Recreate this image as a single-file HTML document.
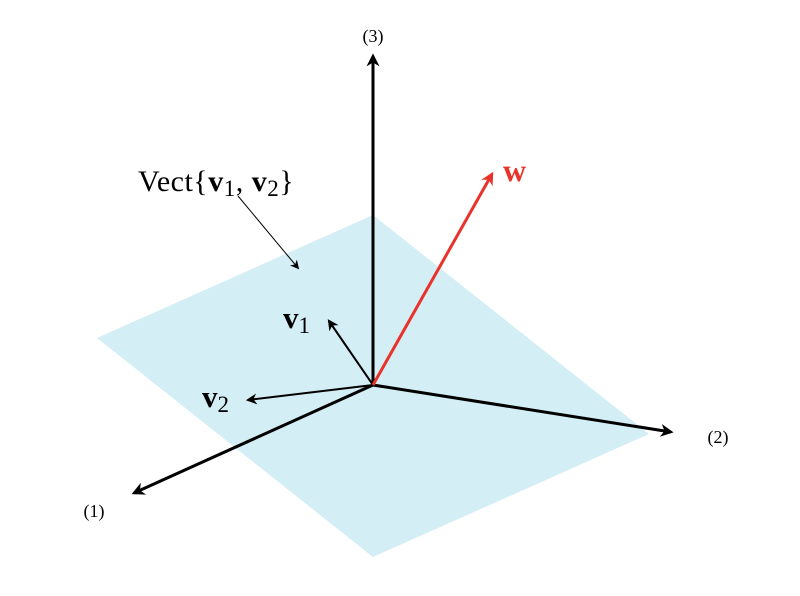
<!DOCTYPE html>
<html><head><style>body{margin:0;background:#fff}svg{display:block}</style></head><body>
<svg width="800" height="596" viewBox="0 0 800 596" xmlns="http://www.w3.org/2000/svg">
<defs>
<marker id="b" viewBox="0 0 10 10" refX="8" refY="5" markerWidth="13" markerHeight="13" markerUnits="userSpaceOnUse" orient="auto" style="overflow:visible">
<path d="M0,0 L10,5 L0,10 L3,5 Z" fill="#000"/></marker>
<marker id="s" viewBox="0 0 10 10" refX="8" refY="5" markerWidth="11" markerHeight="11" markerUnits="userSpaceOnUse" orient="auto" style="overflow:visible">
<path d="M0,0 L10,5 L0,10 L3,5 Z" fill="#000"/></marker>
<marker id="t" viewBox="0 0 10 10" refX="8" refY="5" markerWidth="9" markerHeight="9" markerUnits="userSpaceOnUse" orient="auto" style="overflow:visible">
<path d="M0,0 L10,5 L0,10 L3,5 Z" fill="#000"/></marker>
<marker id="r" viewBox="0 0 10 10" refX="8" refY="5" markerWidth="13" markerHeight="13" markerUnits="userSpaceOnUse" orient="auto" style="overflow:visible">
<path d="M0,0 L10,5 L0,10 L3,5 Z" fill="#e8322a"/></marker>
</defs>
<polygon points="373,215 649,434 373,557 97,338" fill="#d3eef4"/>
<g stroke="#000" stroke-width="3" fill="none">
<line x1="373" y1="385" x2="373" y2="56" marker-end="url(#b)"/>
<line x1="373" y1="385" x2="671" y2="432" marker-end="url(#b)"/>
<line x1="373" y1="385" x2="134" y2="493" marker-end="url(#b)"/>
</g>
<g stroke="#000" stroke-width="2" fill="none">
<line x1="373" y1="385" x2="329" y2="321" marker-end="url(#s)"/>
<line x1="373" y1="385" x2="248" y2="400" marker-end="url(#s)"/>
</g>
<line x1="373" y1="385" x2="492" y2="174" stroke="#e8322a" stroke-width="3" marker-end="url(#r)"/>
<line x1="238" y1="196" x2="298" y2="268" stroke="#000" stroke-width="1" marker-end="url(#t)"/>
<g font-family="Liberation Serif, serif" fill="#000">
<text x="373" y="42" font-size="18" text-anchor="middle">(3)</text>
<text x="718" y="443" font-size="18" text-anchor="middle">(2)</text>
<text x="94" y="517" font-size="18" text-anchor="middle">(1)</text>
<text x="138" y="191" font-size="30" letter-spacing="0.5">Vect{<tspan font-weight="bold">v</tspan><tspan font-size="23" dy="5">1</tspan><tspan dy="-5">, </tspan><tspan font-weight="bold">v</tspan><tspan font-size="23" dy="5">2</tspan><tspan dy="-5">}</tspan></text>
<text x="283" y="328" font-size="31" font-weight="bold">v<tspan font-size="23" font-weight="normal" dy="5">1</tspan></text>
<text x="202" y="407" font-size="31" font-weight="bold">v<tspan font-size="23" font-weight="normal" dy="5">2</tspan></text>
<text x="503" y="181" font-size="32" font-weight="bold" fill="#e8322a">w</text>
</g>
</svg>
</body></html>
